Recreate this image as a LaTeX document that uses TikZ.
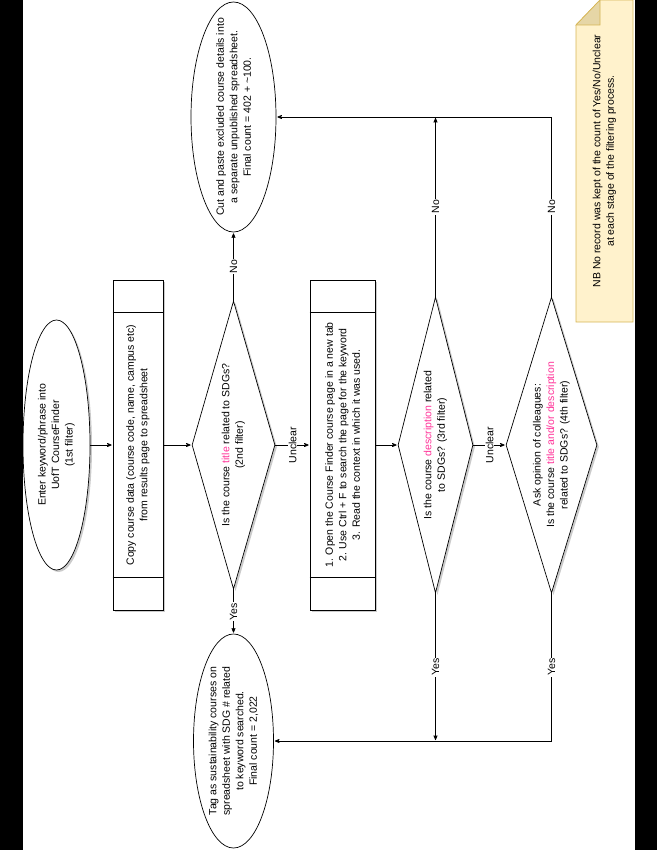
\documentclass[tikz,border=0pt]{standalone}
\usepackage{xcolor}
\usepackage{fontspec}
\setmainfont{Liberation Sans}
\usetikzlibrary{
    arrows,
    calc,
    shapes.geometric,
    shadows
}
\definecolor{pinktext}{RGB}{255,51,153}
\definecolor{notefill}{RGB}{255,242,204}
\definecolor{noteline}{RGB}{214,182,86}
\definecolor{notefold}{RGB}{230,214,166}

\begin{document}
\begin{tikzpicture}[x=1pt,y=-1pt,->,>=stealth',shorten >=1pt,line width=0.7pt,
    font=\fontsize{10.5}{13.5}\selectfont]
    \tikzstyle{every node}=[rotate=90, align=center]
    \tikzstyle{shade}=[drop shadow={shadow xshift=2pt, shadow yshift=-2pt, opacity=0.45, fill=black!45}]
    \tikzstyle{terminal}=[draw, ellipse, fill=white, inner sep=-40pt]
    \tikzstyle{process}=[draw, rectangle, fill=white, shade, minimum width=330pt]
    \tikzstyle{decision}=[draw, diamond, fill=white, shade, inner sep=-40pt]
    \tikzstyle{lbl}=[fill=white, inner sep=1pt]
    \tikzstyle{plain}=[-, shorten >=0pt]
    \useasboundingbox (0,0) rectangle (657,850);
    \fill[plain] (0,0) rectangle (22.5,850);
    \fill[plain] (635,0) rectangle (657,850);
    % note
    \draw[plain, fill=notefill, draw=noteline] (576,322) -- (576,25) -- (600,0) -- (633,0) -- (633,322) -- cycle;
    \draw[plain, fill=notefold, draw=noteline] (576,25) -- (600,0) -- (600,25) -- cycle;
    \node (nb) at (604.5,161) {NB No record was kept of the count of Yes/No/Unclear\\at each stage of the filtering process.};
    % boxes
    \node[terminal, shade, minimum width=250pt, minimum height=67pt] (start) at (56.5,445) {Enter keyword/phrase into\\UofT CourseFinder\\(1st filter)};
    \node[process, minimum height=50pt] (copy) at (138,445) {Copy course data (course code, name, campus etc)\\from results page to spreadsheet};
    \node[decision, minimum width=288pt, minimum height=83pt] (d1) at (233.5,445) {Is the course \textcolor{pinktext}{title} related to SDGs?\\(2nd filter)};
    \node[terminal, minimum width=230pt, minimum height=85pt] (cut) at (233.5,117) {Cut and paste excluded course details into\\a separate unpublished spreadsheet.\\Final count = 402 + \textasciitilde100.};
    \node[terminal, minimum width=214pt, minimum height=80pt] (tag) at (233.5,741) {Tag as sustainability courses on\\spreadsheet with SDG \# related\\to keyword searched.\\Final count = 2,022};
    \node[process, minimum height=65pt] (open) at (342.5,445) {1. Open the Course Finder course page in a new tab\\2. Use Ctrl + F to search the page for the keyword\\3. Read the context in which it was used.};
    \node[decision, minimum width=296pt, minimum height=75pt] (d2) at (435.5,445) {Is the course \textcolor{pinktext}{description} related\\to SDGs? (3rd filter)};
    \node[decision, minimum width=296pt, minimum height=91pt] (d3) at (551.5,445) {Ask opinion of colleagues:\\Is the course \textcolor{pinktext}{title and/or description}\\related to SDGs? (4th filter)};
    \foreach \b in {copy, open} {
        \draw[plain] ($(\b.north east)!33pt!(\b.north west)$) -- ($(\b.south east)!33pt!(\b.south west)$);
        \draw[plain] ($(\b.north west)!33pt!(\b.north east)$) -- ($(\b.south west)!33pt!(\b.south east)$);
    }
    \coordinate (j1) at (d2.east |- cut);
    \coordinate (j2) at (d2.west |- tag);
    % connectors
    \path (start) edge (copy);
    \path (copy) edge (d1);
    \path (d1.east) edge node[lbl]{No} (cut);
    \path (d1.west) edge node[lbl]{Yes} (tag);
    \path (d1) edge node[lbl]{Unclear} (open);
    \path (open) edge (d2);
    \path (d2.east) edge node[lbl]{No} (j1);
    \path (d2.west) edge node[lbl]{Yes} (j2);
    \path (d2) edge node[lbl]{Unclear} (d3);
    \draw (d3.east) |- node[lbl, pos=0.25]{No} (cut);
    \draw (d3.west) |- node[lbl, pos=0.25]{Yes} (tag);
\end{tikzpicture}
\end{document}
